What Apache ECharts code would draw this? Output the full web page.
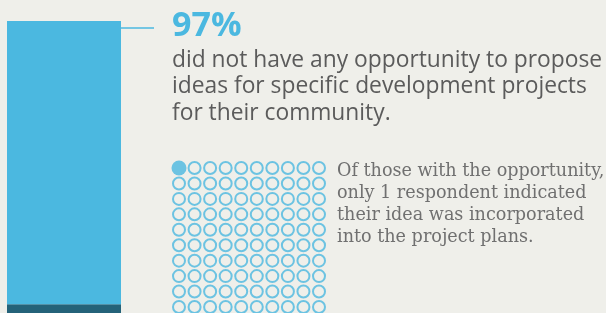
<!DOCTYPE html>
<html>
<head>
<meta charset="utf-8">
<script src="https://cdn.jsdelivr.net/npm/echarts@6/dist/echarts.min.js"></script>
<style>
  html, body { margin: 0; padding: 0; background: #efefea; }
  #chart { width: 606px; height: 313px; }
</style>
</head>
<body>
<div id="chart"></div>
<script>
// share of respondents (%)
const barCategories = ['respondents'];
const noOpportunity = [97];
const hadOpportunity = [3];

// pictogram: respondents with an opportunity, one marked as incorporated
const dotColumns = 10;
const dotRows = 10;
const incorporatedCount = 1;

const headline = '97%';
const mainLines = [
  'did not have any opportunity to propose',
  'ideas for specific development projects',
  'for their community.'
];
const noteLines = [
  'Of those with the opportunity,',
  'only 1 respondent indicated',
  'their idea was incorporated',
  'into the project plans.'
];

const BLUE = '#4bb8e0';
const DARK = '#246279';
const GREY = '#5b5b5b';

const filledDots = [];
const emptyDots = [];
for (let r = 0; r < dotRows; r++) {
  for (let c = 0; c < dotColumns; c++) {
    const idx = r * dotColumns + c;
    (idx < incorporatedCount ? filledDots : emptyDots).push([c, r]);
  }
}

const chart = echarts.init(document.getElementById('chart'));
chart.setOption({
  backgroundColor: '#efefea',
  animation: false,
  grid: [
    { left: 7, top: 21, width: 114, bottom: 0 },
    { left: 179, top: 168, width: 140, height: 139 }
  ],
  xAxis: [
    { gridIndex: 0, type: 'category', data: barCategories, show: false },
    { gridIndex: 1, type: 'value', min: 0, max: dotColumns - 1, show: false }
  ],
  yAxis: [
    { gridIndex: 0, type: 'value', min: 0, max: 100, show: false },
    { gridIndex: 1, type: 'value', min: 0, max: dotRows - 1, inverse: true, show: false }
  ],
  series: [
    {
      type: 'bar', stack: 'total', xAxisIndex: 0, yAxisIndex: 0,
      data: hadOpportunity, barWidth: 114, itemStyle: { color: DARK }
    },
    {
      type: 'bar', stack: 'total', xAxisIndex: 0, yAxisIndex: 0,
      data: noOpportunity, barWidth: 114, itemStyle: { color: BLUE }
    },
    {
      type: 'scatter', xAxisIndex: 1, yAxisIndex: 1,
      data: emptyDots, symbolSize: 12,
      itemStyle: { color: 'transparent', borderColor: BLUE, borderWidth: 2 }
    },
    {
      type: 'scatter', xAxisIndex: 1, yAxisIndex: 1,
      data: filledDots, symbolSize: 15,
      itemStyle: { color: BLUE }
    }
  ],
  graphic: [
    {
      type: 'line', shape: { x1: 121, y1: 28, x2: 154, y2: 28 },
      style: { stroke: BLUE, lineWidth: 1.5 }
    },
    {
      type: 'text', left: 172, top: 9,
      style: {
        text: headline, fill: BLUE,
        font: 'bold 34px "Open Sans", sans-serif'
      }
    },
    {
      type: 'text', left: 172, top: 47,
      style: {
        text: mainLines.join('\n'), fill: GREY, lineHeight: 26.5,
        font: '22.8px "Open Sans", sans-serif'
      }
    },
    {
      type: 'text', left: 337, top: 160,
      style: {
        text: noteLines.join('\n'), fill: '#707070', lineHeight: 22,
        font: '17.6px "DejaVu Serif", serif'
      }
    }
  ]
});
</script>
</body>
</html>
